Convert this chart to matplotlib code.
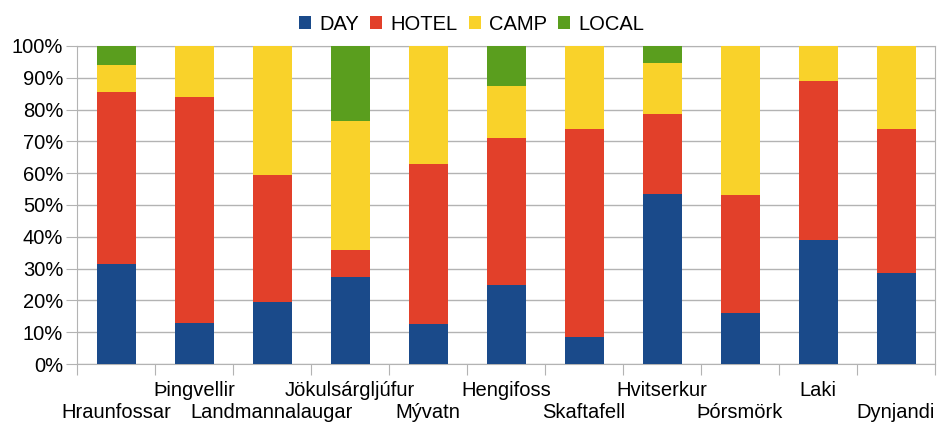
import matplotlib
matplotlib.use("Agg")
import matplotlib.pyplot as plt
import numpy as np

plt.rcParams['font.family'] = ['Liberation Sans', 'DejaVu Sans']

categories = ["Hraunfossar", "Þingvellir", "Landmannalaugar", "Jökulsárgljúfur", "Mývatn",
              "Hengifoss", "Skaftafell", "Hvitserkur", "Þórsmörk", "Laki", "Dynjandi"]
day   = [31.5, 13.0, 19.5, 27.5, 12.5, 25.0,  8.5, 53.5, 16.0, 39.0, 28.5]
hotel = [54.0, 71.0, 40.0,  8.5, 50.5, 46.0, 65.5, 25.0, 37.0, 50.0, 45.5]
camp  = [ 8.5, 16.0, 40.5, 40.5, 37.0, 16.5, 26.0, 16.0, 47.0, 11.0, 26.0]
local = [ 6.0,  0.0,  0.0, 23.5,  0.0, 12.5,  0.0,  5.5,  0.0,  0.0,  0.0]
series_names = ["DAY", "HOTEL", "CAMP", "LOCAL"]
colors = ["#1a4a8a", "#e2402a", "#f9d22a", "#5a9e1e"]

fig = plt.figure(figsize=(9.4, 4.25), dpi=100)
ax = fig.add_axes([77/940, 61/425, (935-77)/940, (364-46)/425])

data = np.array([day, hotel, camp, local], dtype=float)
tot = data.sum(axis=0)
pct = data / tot * 100
x = np.arange(len(categories))
bottom = np.zeros(len(categories))
for vals, name, c in zip(pct, series_names, colors):
    ax.bar(x, vals, bottom=bottom, width=0.5, color=c, label=name, zorder=3)
    bottom += vals

ax.set_xlim(-0.5, len(categories) - 0.5)
ax.set_ylim(0, 100)
ax.set_yticks(np.arange(0, 101, 10))
ax.set_yticklabels([f"{v}%" for v in range(0, 101, 10)], fontsize=14.5)
ax.yaxis.grid(True, color="#b3b3b3", linewidth=1, zorder=0)
ax.tick_params(axis='y', length=8, color="#b3b3b3", pad=2)

ax.set_xticks(np.arange(-0.5, len(categories), 1.0))
ax.set_xticklabels([])
ax.tick_params(axis='x', length=8, color="#b3b3b3")
for i, name in enumerate(categories):
    yoff = -26 if i % 2 == 1 else -41.5
    ax.annotate(name, xy=(i, 0), xycoords=('data', 'axes fraction'),
                xytext=(0, yoff), textcoords='offset points', ha='center', va='bottom',
                fontsize=14.5, annotation_clip=False)

for s in ax.spines.values():
    s.set_color("#b3b3b3")

ax.legend(loc='lower center', bbox_to_anchor=(0.46, 1.0), ncol=4, frameon=False,
          fontsize=14.5, handlelength=0.6, handleheight=0.6, handletextpad=0.4,
          columnspacing=0.55, borderaxespad=0.2)

fig.savefig("out.png", dpi=100)
